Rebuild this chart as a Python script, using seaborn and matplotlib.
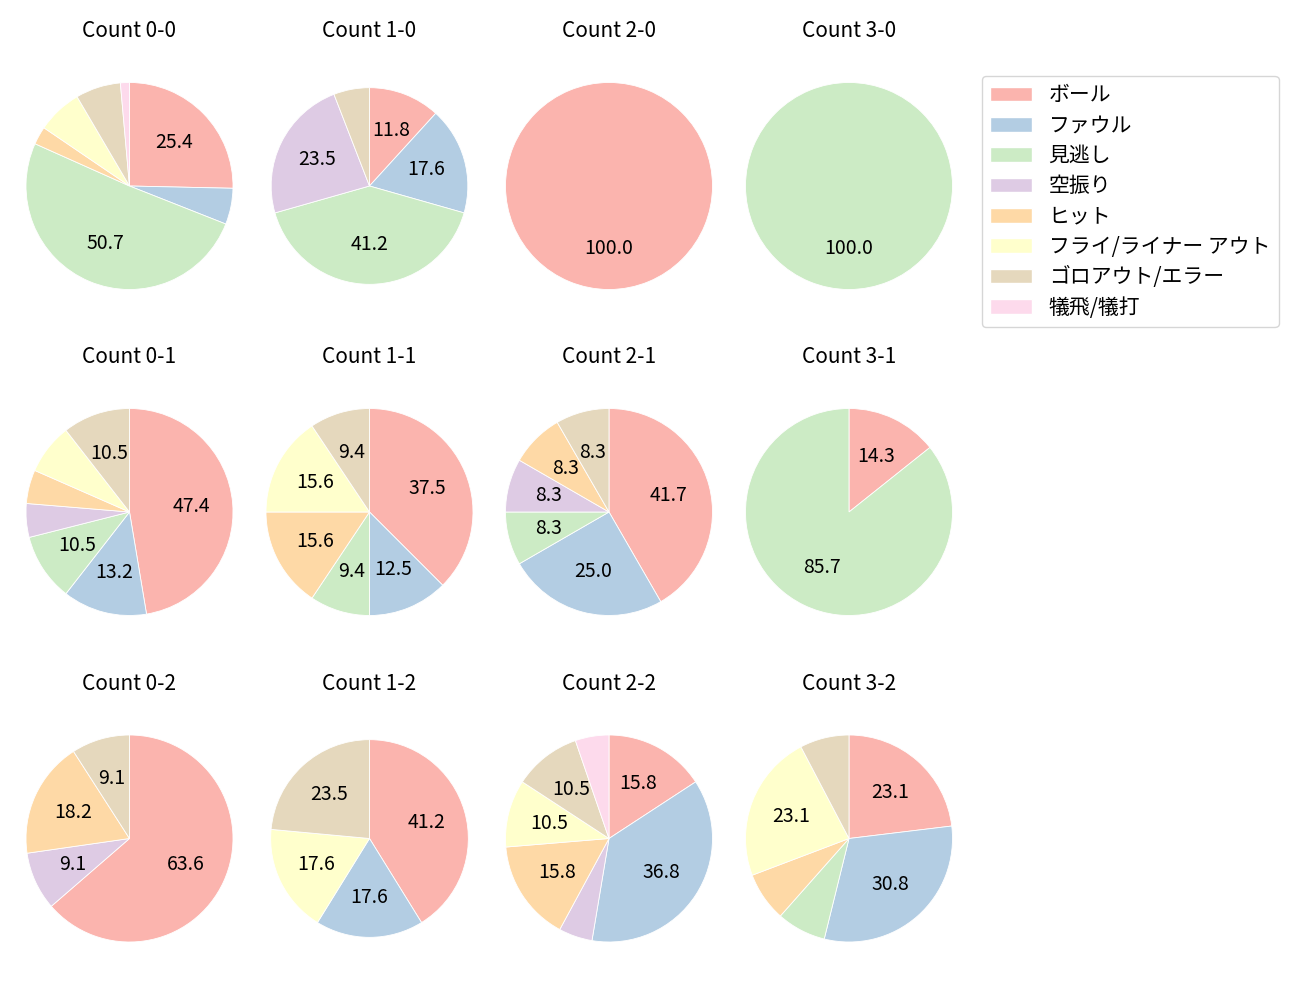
import matplotlib
matplotlib.use("Agg")
import matplotlib.pyplot as plt
import seaborn as sns
from matplotlib.patches import Patch

sns.set_theme(style="white")
plt.rcParams['font.family'] = ['Noto Sans CJK JP', 'DejaVu Sans']
plt.rcParams['text.color'] = 'black'

categories = ["ボール", "ファウル", "見逃し", "空振り", "ヒット",
              "フライ/ライナー アウト", "ゴロアウト/エラー", "犠飛/犠打"]
colors = sns.color_palette("Pastel1", 8)

titles = [["Count 0-0", "Count 1-0", "Count 2-0", "Count 3-0"],
          ["Count 0-1", "Count 1-1", "Count 2-1", "Count 3-1"],
          ["Count 0-2", "Count 1-2", "Count 2-2", "Count 3-2"]]

# pitch counts per category (order as in categories)
count_0_0 = [18, 4, 36, 0, 2, 5, 5, 1]
count_1_0 = [2, 3, 7, 4, 0, 0, 1, 0]
count_2_0 = [1, 0, 0, 0, 0, 0, 0, 0]
count_3_0 = [0, 0, 1, 0, 0, 0, 0, 0]
count_0_1 = [18, 5, 4, 2, 2, 3, 4, 0]
count_1_1 = [12, 4, 3, 0, 5, 5, 3, 0]
count_2_1 = [5, 3, 1, 1, 1, 0, 1, 0]
count_3_1 = [1, 0, 6, 0, 0, 0, 0, 0]
count_0_2 = [7, 0, 0, 1, 2, 0, 1, 0]
count_1_2 = [7, 3, 0, 0, 0, 3, 4, 0]
count_2_2 = [3, 7, 0, 1, 3, 2, 2, 1]
count_3_2 = [3, 4, 1, 0, 1, 3, 1, 0]

data = [[count_0_0, count_1_0, count_2_0, count_3_0],
        [count_0_1, count_1_1, count_2_1, count_3_1],
        [count_0_2, count_1_2, count_2_2, count_3_2]]

W, H = 1300, 1000
fig = plt.figure(figsize=(13, 10), dpi=100)

cx = [129.5, 369.5, 609, 849]
cy = [186, 512, 838.5]
r = 103.5
side = 2 * 1.25 * r
radius_scale = [[1, 0.95, 1, 1], [1, 1, 1, 1], [1, 0.955, 1, 1]]

for i in range(3):
    for j in range(4):
        ax = fig.add_axes([(cx[j] - side / 2) / W, (H - cy[i] - side / 2) / H,
                           side / W, side / H])
        vals = data[i][j]
        idx = [k for k, v in enumerate(vals) if v > 0]
        ax.pie(
            [vals[k] for k in idx],
            colors=[colors[k] for k in idx],
            startangle=90, counterclock=False,
            radius=radius_scale[i][j],
            autopct=lambda p: f"{p:.1f}" if p >= 8 else "",
            pctdistance=0.6,
            wedgeprops={"linewidth": 0.6, "edgecolor": "white"},
            textprops={"fontsize": 14, "color": "black"},
        )
        ax.set_title(titles[i][j], fontsize=15, pad=14, color="black")

handles = [Patch(facecolor=c) for c in colors]
fig.legend(handles, categories, loc="upper left",
           bbox_to_anchor=(982 / W, 1 - 76 / H), bbox_transform=fig.transFigure,
           borderaxespad=0, fontsize=15,
           frameon=True, handlelength=2, labelspacing=0.4)

fig.savefig("out.png", dpi=100)
